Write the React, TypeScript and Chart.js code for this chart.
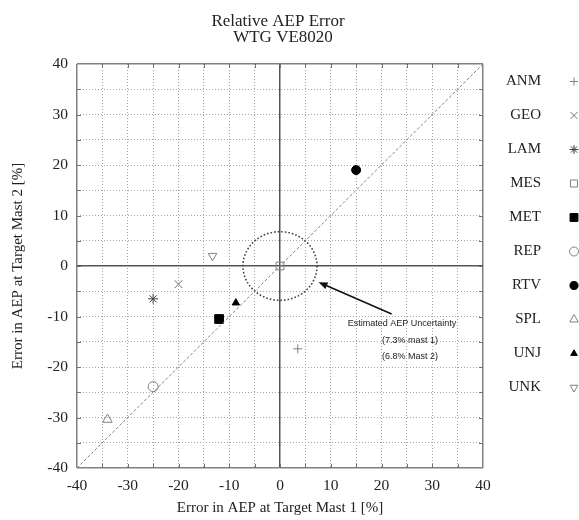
import React, { useEffect, useRef } from 'react';
import { Chart, registerables } from 'chart.js';
import { drawPoint } from 'chart.js/helpers';

Chart.register(...registerables);

// ---------- data ----------
const TITLE_LINES = ['Relative AEP Error', 'WTG VE8020'];
const X_TITLE = 'Error in AEP at Target Mast 1 [%]';
const Y_TITLE = 'Error in AEP at Target Mast 2 [%]';
const SERIES_NAMES = ['ANM', 'GEO', 'LAM', 'MES', 'MET', 'REP', 'RTV', 'SPL', 'UNJ', 'UNK'];
const X_VALUES = [3.5, -20, -25, 0, -12, -25, 15, -34, -8.7, -13.3];
const Y_VALUES = [-16.4, -3.6, -6.5, 0, -10.5, -23.9, 19, -30.4, -7.3, 2];
const AXIS_MIN = -40;
const AXIS_MAX = 40;
const GRID_STEP = 5;
const LABEL_STEP = 10;
const DIAG_X = [-40, 40];
const DIAG_Y = [-40, 40];
const UNCERT_X = 7.3;
const UNCERT_Y = 6.8;
const NOTE_LINES = ['Estimated AEP Uncertainty', '(7.3% mast 1)', '(6.8% Mast 2)'];
const ARROW_FROM = [22, -9.5];
const ARROW_TO = [7.6, -3.2];

// ---------- styles ----------
type PStyle = { style: any; color: string; fill: boolean; radius: number; rotation?: number; lw: number };
const STYLES: PStyle[] = [
  { style: 'cross', color: '#808080', fill: false, radius: 4.5, lw: 1 },
  { style: 'crossRot', color: '#707070', fill: false, radius: 5.5, lw: 1 },
  { style: 'star', color: '#404040', fill: false, radius: 5, lw: 1 },
  { style: 'rect', color: '#808080', fill: false, radius: 5.5, lw: 1 },
  { style: 'rect', color: '#000000', fill: true, radius: 6.2, lw: 1 },
  { style: 'circle', color: '#808080', fill: false, radius: 5, lw: 1 },
  { style: 'circle', color: '#000000', fill: true, radius: 4.5, lw: 1 },
  { style: 'triangle', color: '#808080', fill: false, radius: 5.5, lw: 1 },
  { style: 'triangle', color: '#000000', fill: true, radius: 4.2, lw: 1 },
  { style: 'triangle', color: '#808080', fill: false, radius: 5, rotation: 180, lw: 1 },
];

const SERIF = "'Liberation Serif', 'Times New Roman', serif";
const SANS = "'Liberation Sans', Arial, sans-serif";

const isEdge = (v: number) => v === AXIS_MIN || v === AXIS_MAX;

const decorPlugin = {
  id: 'decor',
  beforeDatasetsDraw(chart: any) {
    const { ctx, chartArea: a, scales } = chart;
    const xs = scales.x;
    const ys = scales.y;
    ctx.save();
    // inward tick marks
    ctx.strokeStyle = '#707070';
    ctx.lineWidth = 1;
    ctx.setLineDash([]);
    const tl = 4;
    for (let v = AXIS_MIN + GRID_STEP; v < AXIS_MAX; v += GRID_STEP) {
      const px = Math.round(xs.getPixelForValue(v)) + 0.5;
      const py = Math.round(ys.getPixelForValue(v)) + 0.5;
      ctx.beginPath();
      ctx.moveTo(px, a.bottom); ctx.lineTo(px, a.bottom - tl);
      ctx.moveTo(px, a.top); ctx.lineTo(px, a.top + tl);
      ctx.moveTo(a.left, py); ctx.lineTo(a.left + tl, py);
      ctx.moveTo(a.right, py); ctx.lineTo(a.right - tl, py);
      ctx.stroke();
    }
    // uncertainty ellipse
    const cx = xs.getPixelForValue(0);
    const cy = ys.getPixelForValue(0);
    const rx = Math.abs(xs.getPixelForValue(UNCERT_X) - cx);
    const ry = Math.abs(ys.getPixelForValue(UNCERT_Y) - cy);
    ctx.strokeStyle = '#444444';
    ctx.lineWidth = 1.6;
    ctx.setLineDash([1.6, 2]);
    ctx.beginPath();
    ctx.ellipse(cx, cy, rx, ry, 0, 0, Math.PI * 2);
    ctx.stroke();
    ctx.restore();
  },
  afterDraw(chart: any) {
    const { ctx, scales } = chart;
    const xs = scales.x;
    const ys = scales.y;
    ctx.save();
    // arrow
    const x1 = xs.getPixelForValue(ARROW_FROM[0]);
    const y1 = ys.getPixelForValue(ARROW_FROM[1]);
    const x2 = xs.getPixelForValue(ARROW_TO[0]);
    const y2 = ys.getPixelForValue(ARROW_TO[1]);
    const ang = Math.atan2(y2 - y1, x2 - x1);
    const hl = 9, hw = 3.5;
    const bx = x2 - Math.cos(ang) * hl;
    const by = y2 - Math.sin(ang) * hl;
    ctx.strokeStyle = '#111';
    ctx.fillStyle = '#111';
    ctx.lineWidth = 1.5;
    ctx.setLineDash([]);
    ctx.beginPath();
    ctx.moveTo(x1, y1);
    ctx.lineTo(bx, by);
    ctx.stroke();
    ctx.beginPath();
    ctx.moveTo(x2, y2);
    ctx.lineTo(bx + Math.sin(ang) * hw, by - Math.cos(ang) * hw);
    ctx.lineTo(bx - Math.sin(ang) * hw, by + Math.cos(ang) * hw);
    ctx.closePath();
    ctx.fill();
    // note text
    ctx.font = `9px ${SANS}`;
    ctx.fillStyle = '#222';
    ctx.textAlign = 'center';
    ctx.textBaseline = 'middle';
    ctx.fillText(NOTE_LINES[0], 402, 324);
    ctx.fillText(NOTE_LINES[1], 410, 341);
    ctx.fillText(NOTE_LINES[2], 410, 357);
    // title
    ctx.font = `17px ${SERIF}`;
    ctx.fillStyle = '#222';
    ctx.fillText(TITLE_LINES[0], 278, 22);
    ctx.fillText(TITLE_LINES[1], 283, 37.5);
    // legend
    ctx.font = `15px ${SERIF}`;
    ctx.textAlign = 'right';
    SERIES_NAMES.forEach((name, i) => {
      const y = 81.5 + 34 * i;
      ctx.fillStyle = '#222';
      ctx.fillText(name, 541, y);
      const s = STYLES[i];
      ctx.strokeStyle = s.color;
      ctx.fillStyle = s.fill ? s.color : 'rgba(0,0,0,0)';
      ctx.lineWidth = s.lw;
      drawPoint(ctx, { pointStyle: s.style, radius: s.radius * 0.9, rotation: s.rotation || 0, borderWidth: s.lw } as any, 574, y);
    });
    ctx.restore();
  },
};

export default function App() {
  const ref = useRef<HTMLCanvasElement>(null);
  useEffect(() => {
    if (!ref.current) return;
    const datasets: any[] = SERIES_NAMES.map((name, i) => {
      const s = STYLES[i];
      return {
        type: 'scatter',
        label: name,
        data: [{ x: X_VALUES[i], y: Y_VALUES[i] }],
        pointStyle: s.style,
        pointRadius: s.radius,
        pointRotation: s.rotation || 0,
        pointBorderColor: s.color,
        pointBackgroundColor: s.fill ? s.color : 'rgba(0,0,0,0)',
        pointBorderWidth: s.lw,
        borderColor: s.color,
        backgroundColor: s.fill ? s.color : 'rgba(0,0,0,0)',
      };
    });
    datasets.unshift({
      type: 'line',
      label: 'diag',
      data: DIAG_X.map((x, i) => ({ x, y: DIAG_Y[i] })),
      borderColor: '#808080',
      borderWidth: 1,
      borderDash: [3, 2],
      pointRadius: 0,
      fill: false,
    });
    const gridColor = (c: any) => {
      const v = c.tick ? c.tick.value : null;
      if (v === 0) return '#555555';
      if (v !== null && isEdge(v)) return '#808080';
      return '#a5a5a5';
    };
    const gridWidth = (c: any) => {
      const v = c.tick ? c.tick.value : null;
      if (v === 0) return 1.5;
      if (v !== null && isEdge(v)) return 1.5;
      return 1;
    };
    const gridDash = (c: any) => {
      const v = c.tick ? c.tick.value : null;
      if (v === 0 || (v !== null && isEdge(v))) return [];
      return [1, 2];
    };
    const tickCb = (v: any) => (Number(v) % LABEL_STEP === 0 ? String(v) : '');
    const chart = new Chart(ref.current, {
      type: 'scatter',
      data: { datasets },
      plugins: [decorPlugin],
      options: {
        animation: false,
        responsive: false,
        events: [],
        layout: { padding: { top: 64, right: 96, left: 0, bottom: 0 } },
        plugins: { legend: { display: false }, title: { display: false }, tooltip: { enabled: false } },
        scales: {
          x: {
            type: 'linear',
            min: AXIS_MIN,
            max: AXIS_MAX,
            afterFit: (s: any) => { s.height = 52; },
            ticks: { stepSize: GRID_STEP, autoSkip: false, maxRotation: 0, callback: tickCb, padding: 9, color: '#222', font: { family: SERIF, size: 15.5 } },
            grid: { color: gridColor, lineWidth: gridWidth, drawTicks: false },
            border: { display: false, dash: gridDash },
            title: { display: true, text: X_TITLE, color: '#222', font: { family: SERIF, size: 15 }, padding: { top: 0, bottom: 3 } },
          },
          y: {
            type: 'linear',
            min: AXIS_MIN,
            max: AXIS_MAX,
            afterFit: (s: any) => { s.width = 77; },
            ticks: { stepSize: GRID_STEP, autoSkip: false, callback: tickCb, padding: 9, color: '#222', font: { family: SERIF, size: 15.5 } },
            grid: { color: gridColor, lineWidth: gridWidth, drawTicks: false },
            border: { display: false, dash: gridDash },
            title: { display: true, text: Y_TITLE, color: '#222', font: { family: SERIF, size: 15 }, padding: { top: 9, bottom: 0 } },
          },
        },
      } as any,
    });
    return () => chart.destroy();
  }, []);
  return (
    <canvas
      ref={ref}
      width={579}
      height={520}
      style={{ position: 'fixed', left: 0, top: 0, width: 579, height: 520, display: 'block', background: '#fff' }}
    />
  );
}
